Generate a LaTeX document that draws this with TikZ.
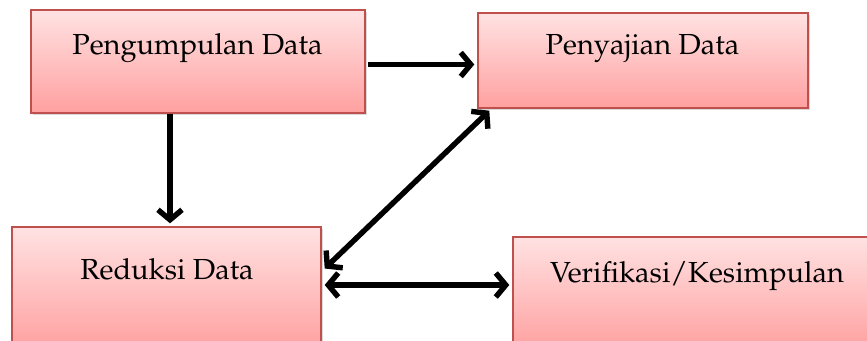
\documentclass[tikz,border=0pt]{standalone}
\usepackage[T1]{fontenc}
\usepackage{mathpazo}
\usetikzlibrary{arrows.meta,shadows}
\definecolor{tepi}{RGB}{192,80,77}
\definecolor{atas}{RGB}{255,226,226}
\definecolor{bawah}{RGB}{255,160,160}
\tikzset{
	tahap/.style={draw=tepi, line width=1.4pt, top color=atas, bottom color=bawah, inner sep=0pt,
		drop shadow={shadow xshift=1.5pt, shadow yshift=-2.5pt, opacity=0.3}},
	teks/.style={anchor=base, font=\fontsize{29}{32}\selectfont},
	panah/.style={line width=5.4pt, >={Straight Barb[length=10pt,width=24pt]},
		preaction={draw=black!20, transform canvas={xshift=1pt,yshift=-2pt}}}
}
\begin{document}
\begin{tikzpicture}[x=1pt, y=1pt]
			\useasboundingbox (0,0) rectangle (867,340);
			\node[tahap, minimum width=334pt, minimum height=103pt] (kumpul) at (198,278.5) {};
			\node[tahap, minimum width=330pt, minimum height=95pt] (saji) at (643,279.5) {};
			\node[tahap, minimum width=309pt, minimum height=123pt] (reduksi) at (166.5,51.5) {};
			\node[tahap, minimum width=367pt, minimum height=113pt] (verif) at (696.5,46.5) {};
			\node[teks] (tkumpul) at (197.5,285) {Pengumpulan Data};
			\node[teks] (tsaji) at (642.5,285) {Penyajian Data};
			\node[teks] (treduksi) at (167,60) {Reduksi Data};
			\node[teks] (tverif) at (697,57) {Verifikasi/Kesimpulan};
			\draw[panah, ->] ([xshift=2pt,yshift=-3pt]kumpul.east) -- ([xshift=-3pt,yshift=-3pt]kumpul.east -| saji.west);
			\draw[panah, ->] ([xshift=-28pt]kumpul.south) -- ([xshift=-28pt,yshift=3pt]kumpul.south |- reduksi.north);
			\draw[panah, <->] ([xshift=3pt,yshift=20pt]reduksi.east) -- ([xshift=12pt,yshift=-2pt]saji.south west);
			\draw[panah, <->] ([xshift=3pt,yshift=3.5pt]reduksi.east) -- ([xshift=-3pt,yshift=3.5pt]reduksi.east -| verif.west);
		\end{tikzpicture}
\end{document}
